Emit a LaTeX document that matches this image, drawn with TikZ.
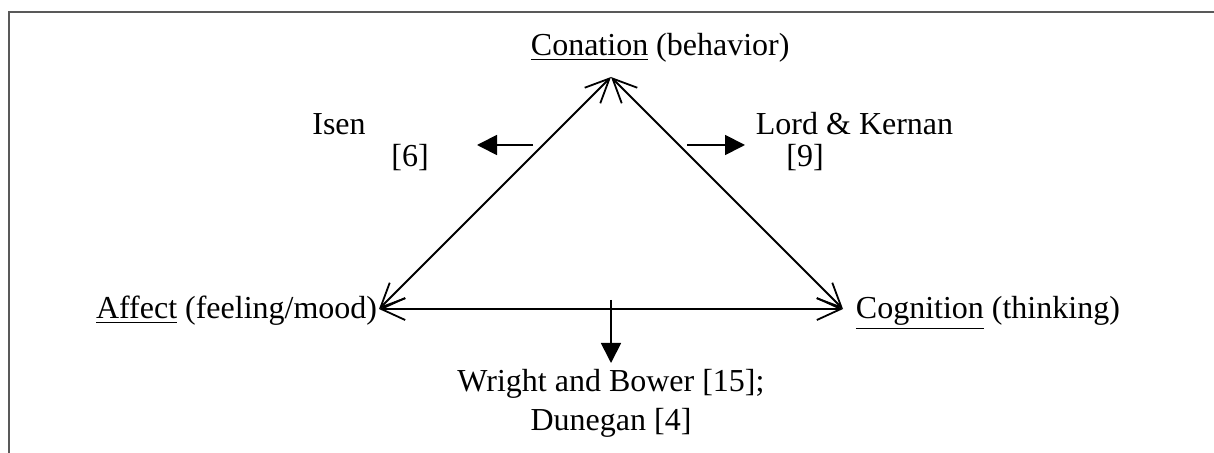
\documentclass[tikz,border=0pt]{standalone}
\usepackage{fontspec}
\setmainfont{Liberation Serif}
\usetikzlibrary{arrows.meta}

\begin{document}
\begin{tikzpicture}[x=0.5pt,y=-0.5pt,line width=0.9pt,
  lbl/.style={inner sep=0pt,font=\fontsize{16}{19}\selectfont},
  edge/.style={{Straight Barb[length=12pt,width=11pt]}-{Straight Barb[length=12pt,width=11pt]}},
  push/.style={-{Triangle[length=10pt,width=10pt]}}]
\useasboundingbox (0,0) rectangle (1214,453);
\draw[black!65,line width=1.2pt] (9,453) -- (9,12) -- (1214,12);
% corners of the triangle
\coordinate (con) at (611,77);
\coordinate (aff) at (379,309);
\coordinate (cog) at (843,309);
\node[lbl,anchor=base west] (conlbl) at (530,56) {\underline{Conation} (behavior)};
\node[lbl,anchor=base east] (afflbl) at (378,319) {\underline{Affect} (feeling/mood)};
\node[lbl,anchor=base west] (coglbl) at (855,319) {\underline{Cognition} (thinking)};
\draw[edge] (aff) -- (con);
\draw[edge] (con) -- (cog);
\draw[edge] (aff) -- (cog);
% influence arrows
\coordinate (isen0) at (533,145);
\coordinate (isen1) at (477,145);
\coordinate (lord0) at (687,145);
\coordinate (lord1) at (745,145);
\coordinate (wri0) at (611,300);
\coordinate (wri1) at (611,363);
\draw[push] (isen0) -- (isen1);
\draw[push] (lord0) -- (lord1);
\draw[push] (wri0) -- (wri1);
\node[lbl,anchor=base] (isen) at (339,135) {Isen};
\node[lbl,anchor=base] (isenref) at (410,167) {[6]};
\node[lbl,anchor=base west] (lord) at (755,135) {Lord \& Kernan};
\node[lbl,anchor=base] (lordref) at (805,167) {[9]};
\node[lbl,anchor=base] (wright) at (611,392) {Wright and Bower [15];};
\node[lbl,anchor=base] (dunegan) at (611,430) {Dunegan [4]};
\end{tikzpicture}
\end{document}
